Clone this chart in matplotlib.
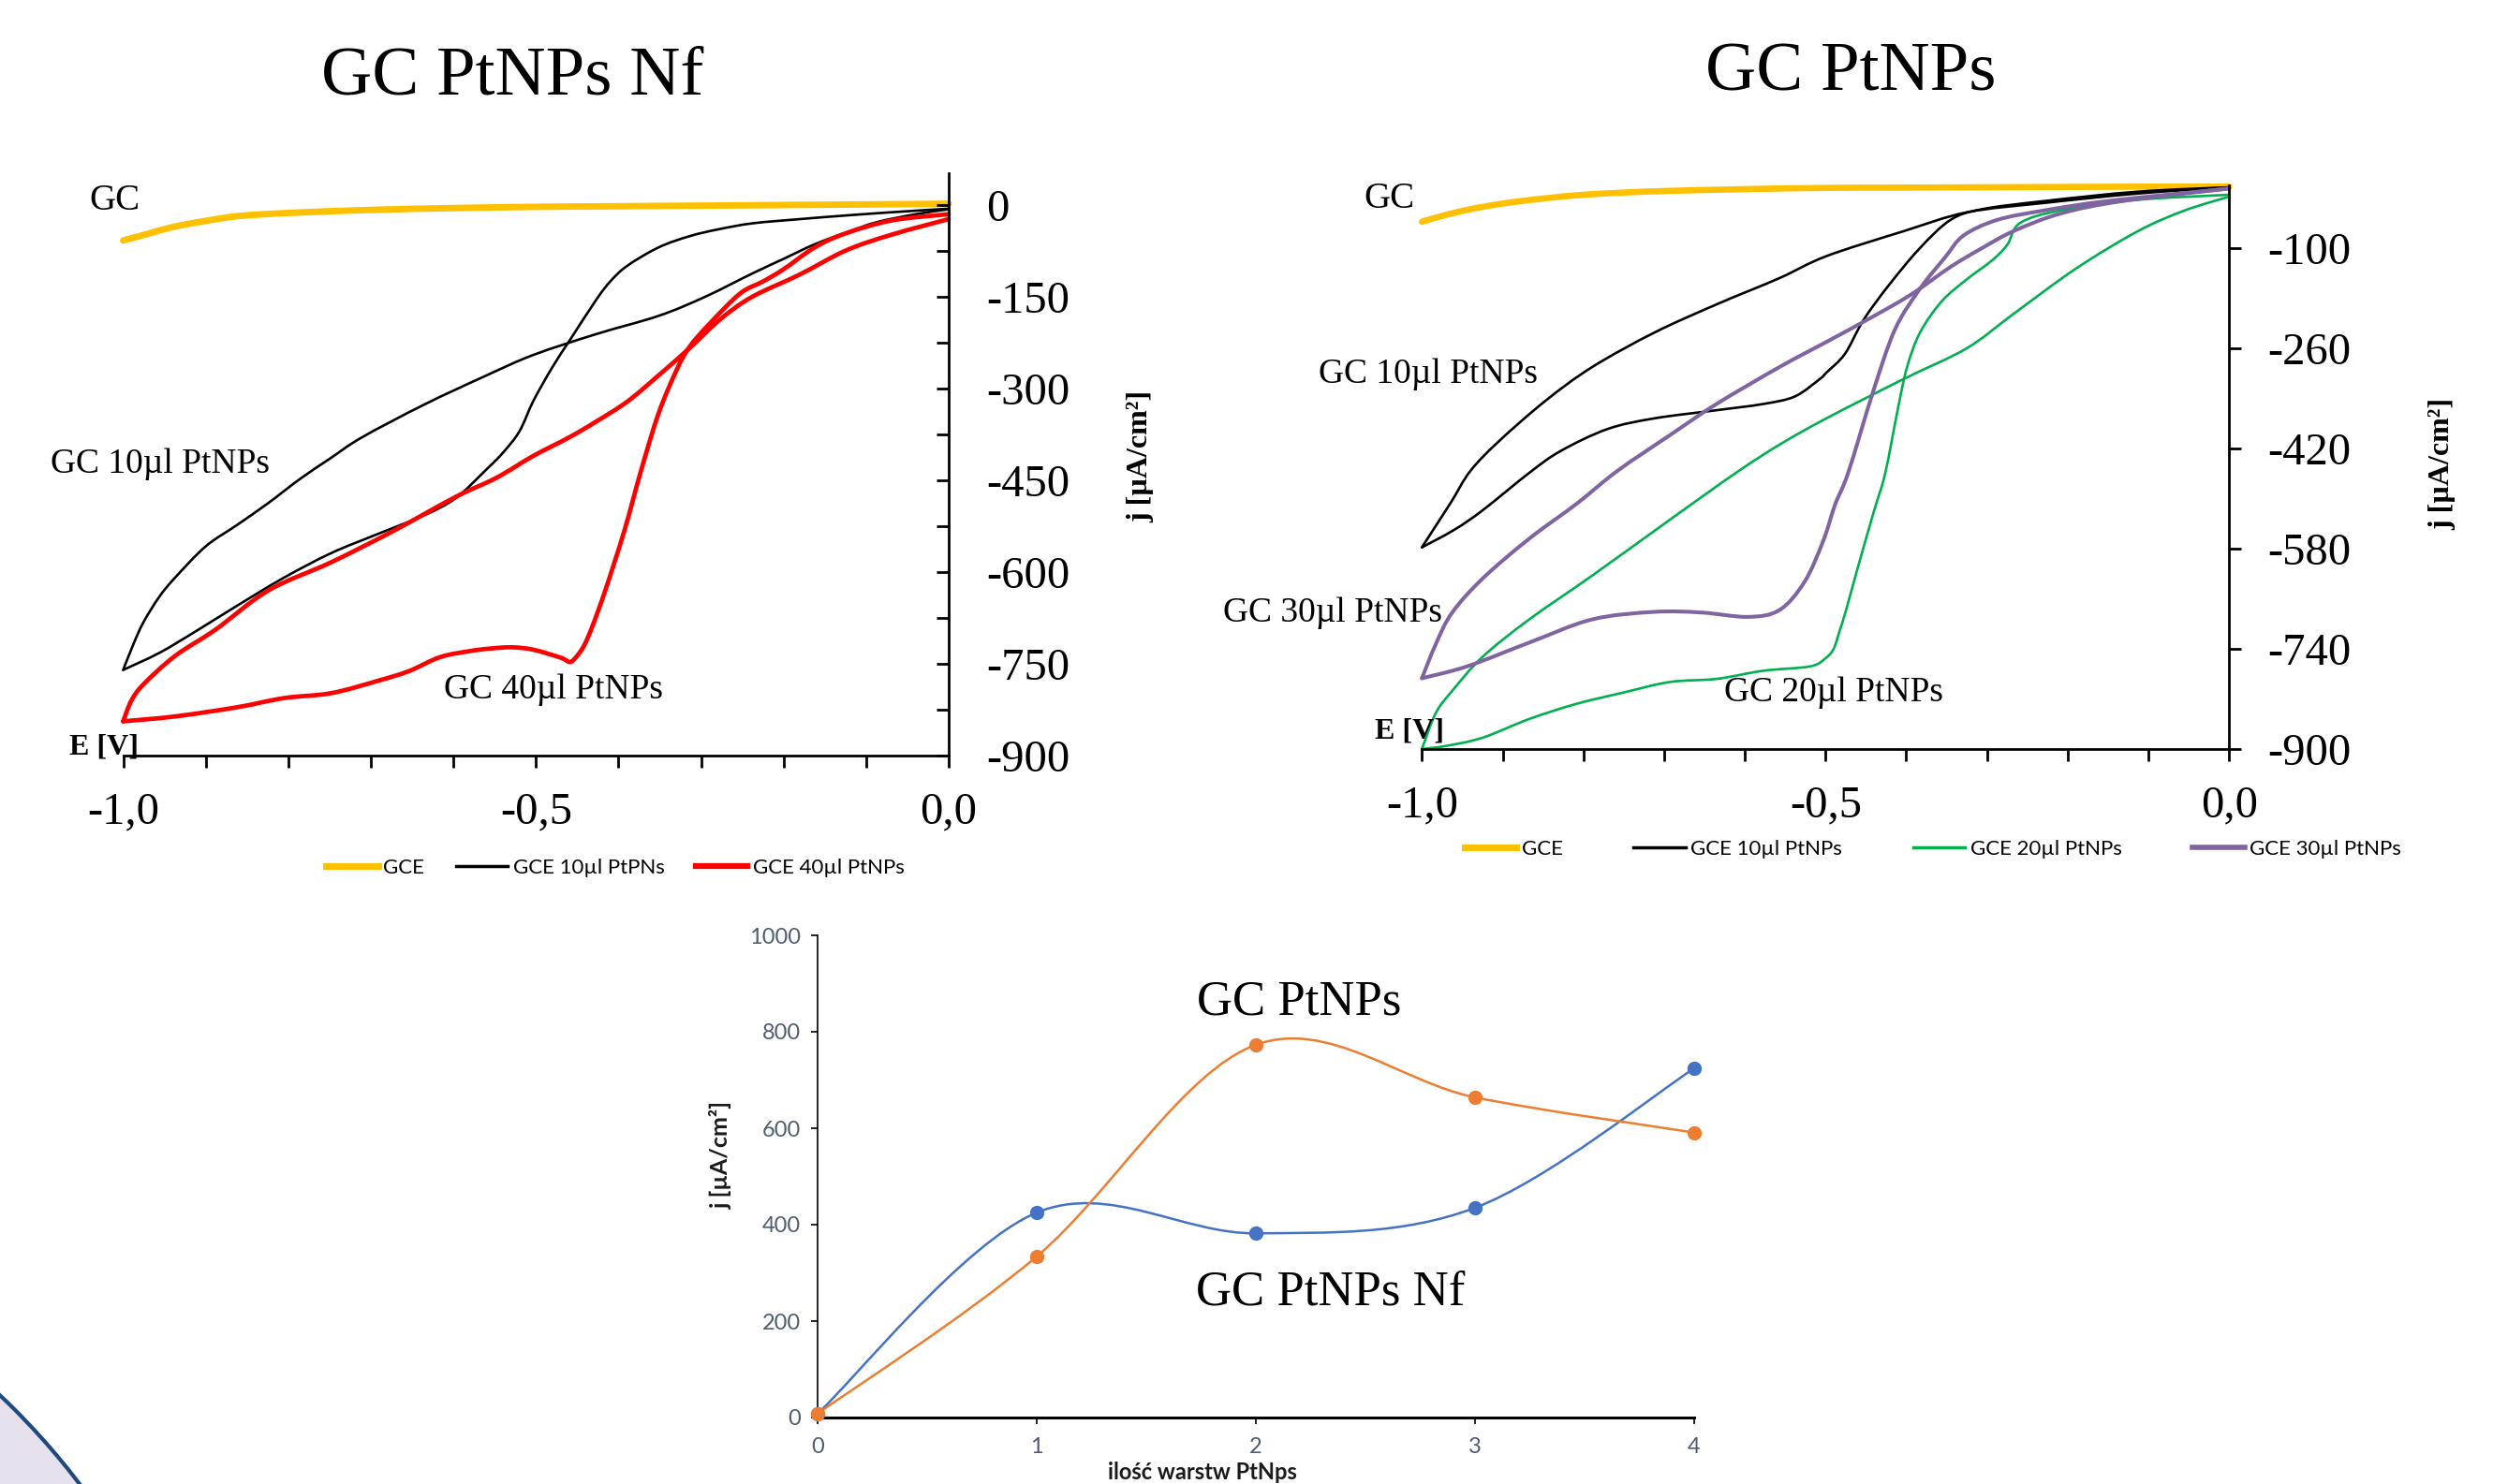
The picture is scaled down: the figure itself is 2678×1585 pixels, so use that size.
import numpy as np
import matplotlib
matplotlib.use('Agg')
import matplotlib.pyplot as plt
from matplotlib.path import Path
from matplotlib.patches import PathPatch, Circle
from matplotlib.lines import Line2D
from matplotlib.transforms import IdentityTransform

# ---------------- data: panel 1 (GC PtNPs Nf) ----------------
p1_gc_E = [-1.0, -0.97, -0.94, -0.9, -0.86, -0.8, -0.7, -0.6, -0.5, -0.4, -0.3, -0.2, -0.1, 0.0]
p1_gc_j = [-58, -47, -36, -26, -18, -13, -8, -5, -3, -2, -1, 0, 1, 2]

p1_10_E = [0.0, -0.06, -0.124, -0.18, -0.238, -0.28, -0.314, -0.351, -0.389, -0.41, -0.427, -0.458,
           -0.48, -0.503, -0.52, -0.54, -0.559, -0.597, -0.635, -0.692, -0.748, -0.805, -0.862,
           -0.911, -0.956, -1.0,
           -0.987, -0.975, -0.956, -0.937, -0.9, -0.862, -0.824, -0.786, -0.75, -0.711, -0.635,
           -0.559, -0.503, -0.427, -0.351, -0.295, -0.238, -0.2, -0.162, -0.12, -0.087, -0.04, 0.0]
p1_10_j = [-6, -11, -17, -23, -30, -40, -51, -69, -99, -125, -155, -219,
           -265, -320, -370, -405, -431, -479, -507, -538, -569, -609, -655,
           -696, -732, -760,
           -716, -681, -640, -609, -558, -523, -487, -448, -415, -380, -326,
           -278, -245, -211, -181, -150, -112, -88, -64, -43, -28, -15, -7]

p1_40_E = [0.0, -0.068, -0.124, -0.162, -0.2, -0.225, -0.253, -0.291, -0.314, -0.329, -0.351, -0.372,
           -0.393, -0.416, -0.432, -0.442, -0.452, -0.459, -0.47, -0.503, -0.529, -0.555, -0.579,
           -0.616, -0.654, -0.692, -0.748, -0.805, -0.862, -0.937, -1.0,
           -0.99, -0.975, -0.937, -0.888, -0.824, -0.748, -0.673, -0.597, -0.548, -0.503, -0.46,
           -0.427, -0.389, -0.351, -0.314, -0.276, -0.238, -0.181, -0.124, -0.068, 0.0]
p1_40_j = [-15, -25, -46, -69, -105, -125, -145, -196, -232, -268, -339, -431,
           -533, -630, -690, -721, -740, -747, -740, -727, -723, -725, -729,
           -739, -762, -778, -798, -806, -821, -836, -844,
           -810, -783, -737, -694, -630, -584, -533, -477, -446, -410, -380,
           -354, -321, -278, -234, -186, -150, -114, -74, -48, -23]

# ---------------- data: panel 2 (GC PtNPs) ----------------
p2_gc_E = [-1.0, -0.97, -0.94, -0.9, -0.85, -0.8, -0.75, -0.7, -0.6, -0.5, -0.4, -0.3, -0.2, -0.1, 0.0]
p2_gc_j = [-58, -47, -38, -29, -21, -15, -11.5, -9, -6, -4, -3.5, -3, -2.5, -2, -2]

p2_10_E = [0.0, -0.113, -0.229, -0.306, -0.345, -0.383, -0.422, -0.453, -0.476, -0.499, -0.507, -0.538,
           -0.577, -0.635, -0.712, -0.77, -0.828, -0.867, -0.925, -0.96, -1.0,
           -0.983, -0.963, -0.94, -0.905, -0.847, -0.789, -0.712, -0.635, -0.557, -0.499, -0.403,
           -0.325, -0.229, -0.113, 0.0]
p2_10_j = [-3, -10, -25, -38, -55, -100, -160, -215, -269, -299, -309, -337,
           -349, -359, -372, -389, -424, -459, -519, -550, -578,
           -544, -504, -456, -409, -344, -290, -235, -190, -148, -113, -73,
           -43, -28, -13, -3]

p2_20_E = [0.0, -0.113, -0.209, -0.259, -0.275, -0.294, -0.325, -0.356, -0.383, -0.399, -0.41, -0.426,
           -0.44, -0.46, -0.475, -0.483, -0.49, -0.5, -0.519, -0.577, -0.635, -0.693, -0.751, -0.809,
           -0.867, -0.925, -0.97, -1.0,
           -0.983, -0.963, -0.925, -0.867, -0.789, -0.693, -0.611, -0.557, -0.499, -0.403, -0.325,
           -0.267, -0.19, -0.113, -0.055, 0.0]
p2_20_j = [-15, -23, -40, -60, -95, -120, -150, -185, -235, -290, -354, -459,
           -520, -610, -680, -713, -740, -755, -768, -775, -788, -793, -810, -828,
           -852, -882, -895, -900,
           -843, -808, -753, -693, -623, -534, -459, -414, -372, -309, -260,
           -205, -133, -73, -40, -18]

p2_30_E = [0.0, -0.151, -0.229, -0.287, -0.329, -0.352, -0.383, -0.414, -0.441, -0.472, -0.488, -0.503,
           -0.526, -0.557, -0.596, -0.654, -0.712, -0.789, -0.867, -0.944, -1.0,
           -0.983, -0.963, -0.925, -0.867, -0.809, -0.758, -0.693, -0.635, -0.557, -0.499, -0.449,
           -0.395, -0.345, -0.306, -0.267, -0.209, -0.132, 0.0]
p2_30_j = [-5, -25, -40, -55, -80, -115, -165, -230, -329, -459, -509, -568,
           -633, -678, -689, -682, -681, -693, -730, -768, -787,
           -733, -683, -628, -564, -509, -456, -399, -349, -290, -250, -215,
           -175, -130, -100, -73, -45, -25, -5]

# ---------------- data: panel 3 (layers) ----------------
layers = [0, 1, 2, 3, 4]
j_nf = [8, 425, 382, 435, 724]        # blue
j_ptnps = [8, 334, 773, 664, 591]     # orange

x_ticklabels = ['-1,0', '-0,5', '0,0']

# ---------------- style ----------------
W, H = 2678, 1585
SERIF = 'Liberation Serif'
SANS = ['Lato', 'DejaVu Sans']
plt.rcParams['font.family'] = SERIF

C_YEL = '#FFC000'
C_RED = '#FF0000'
C_GRN = '#00B050'
C_PUR = '#8064A2'
C_BLUE = '#4472C4'
C_ORG = '#ED7D31'

fig = plt.figure(figsize=(W / 100, H / 100), dpi=100)


def fx(px):
    return px / W


def fy(py):
    return 1 - py / H


DY = 4  # vertical nudge for serif labels (px)

# decorative corner circle
deco = Circle((-540, H - 2060), 785, transform=IdentityTransform(),
              facecolor='#E6E1EE', edgecolor='#1F497D', linewidth=3.0, zorder=-5)
fig.add_artist(deco)


def smooth_path(x, y):
    pts = np.column_stack([np.asarray(x, float), np.asarray(y, float)])
    n = len(pts)
    verts = [pts[0]]
    codes = [Path.MOVETO]
    for i in range(n - 1):
        p0 = pts[max(i - 1, 0)]
        p1 = pts[i]
        p2 = pts[i + 1]
        p3 = pts[min(i + 2, n - 1)]
        verts += [p1 + (p2 - p0) / 6, p2 - (p3 - p1) / 6, p2]
        codes += [Path.CURVE4] * 3
    return Path(verts, codes)


def draw_smooth(ax, x, y, color, lw, cap='round'):
    ax.add_patch(PathPatch(smooth_path(x, y), fill=False, edgecolor=color, lw=lw,
                           clip_on=False, capstyle=cap, joinstyle='round'))


def draw_cv(ax, E, j, color, lw):
    k = int(np.argmin(E))
    draw_smooth(ax, E[:k + 1], j[:k + 1], color, lw)
    draw_smooth(ax, E[k:], j[k:], color, lw)


def cv_axes(rect, ymax, yticks, yminor, ydir, ypad):
    ax = fig.add_axes(rect)
    ax.set_facecolor('none')
    ax.set_xlim(-1, 0)
    ax.set_ylim(-900, ymax)
    for s in ['left', 'top']:
        ax.spines[s].set_visible(False)
    for s in ['right', 'bottom']:
        ax.spines[s].set_linewidth(2.0)
    ax.yaxis.tick_right()
    ax.set_yticks(yticks)
    ax.set_yticklabels([str(v) for v in yticks])
    if yminor is not None:
        ax.set_yticks(yminor, minor=True)
    ax.tick_params(axis='y', which='both', direction=ydir, length=9.5, width=2,
                   pad=ypad, labelsize=35)
    ax.set_xticks([-1, -0.5, 0])
    ax.set_xticklabels(x_ticklabels)
    ax.set_xticks(np.arange(-0.9, -0.05, 0.1), minor=True)
    ax.tick_params(axis='x', which='both', direction='out', length=9.5, width=2,
                   pad=18.5, labelsize=35)
    return ax


# ---------------- panel 1 ----------------
ax1 = cv_axes([fx(131.5), fy(807), 881.5 / W, 622 / H], 52,
              list(range(-900, 1, 150)), list(range(-825, 0, 150)), 'in', 29)
draw_smooth(ax1, p1_gc_E, p1_gc_j, C_YEL, 5)
draw_cv(ax1, p1_10_E, p1_10_j, 'black', 1.9)
draw_cv(ax1, p1_40_E, p1_40_j, C_RED, 3.4)

fig.text(fx(547), fy(77 + DY + 2), 'GC PtNPs Nf', ha='center', va='center', fontsize=54)
fig.text(fx(122), fy(210 + DY), 'GC', ha='center', va='center', fontsize=28)
fig.text(fx(171), fy(492 + DY), 'GC 10µl PtNPs', ha='center', va='center', fontsize=27)
fig.text(fx(591), fy(733 + DY), 'GC 40µl PtNPs', ha='center', va='center', fontsize=27)
fig.text(fx(111), fy(794 + DY), 'E [V]', ha='center', va='center', fontsize=23, weight='bold')
fig.text(fx(1218), fy(487), 'j [µA/cm²]', ha='center', va='center', fontsize=23,
         weight='bold', rotation=90)

h1 = [Line2D([], [], color=C_YEL, lw=5), Line2D([], [], color='black', lw=2.5),
      Line2D([], [], color=C_RED, lw=4.5)]
fig.legend(h1, ['GCE', 'GCE 10µl PtPNs', 'GCE 40µl PtNPs'], loc='center',
           bbox_to_anchor=(fx(657), fy(927)), ncol=3, frameon=False,
           prop={'family': SANS, 'size': 16}, handlelength=2.5, handletextpad=0.25,
           columnspacing=1.5)

# ---------------- panel 2 ----------------
ax2 = cv_axes([fx(1518.3), fy(800), 862 / W, 602 / H], 0,
              list(range(-900, 0, 160)), None, 'out', 20)
draw_smooth(ax2, p2_gc_E, p2_gc_j, C_YEL, 4.8)
draw_cv(ax2, p2_10_E, p2_10_j, 'black', 1.9)
draw_cv(ax2, p2_20_E, p2_20_j, C_GRN, 1.9)
draw_cv(ax2, p2_30_E, p2_30_j, C_PUR, 2.9)

fig.text(fx(1976), fy(72 + DY + 3), 'GC PtNPs', ha='center', va='center', fontsize=54)
fig.text(fx(1483), fy(208 + DY), 'GC', ha='center', va='center', fontsize=28)
fig.text(fx(1525), fy(396 + DY), 'GC 10µl PtNPs', ha='center', va='center', fontsize=27)
fig.text(fx(1423), fy(651 + DY), 'GC 30µl PtNPs', ha='center', va='center', fontsize=27)
fig.text(fx(1958), fy(736 + DY), 'GC 20µl PtNPs', ha='center', va='center', fontsize=27)
fig.text(fx(1505), fy(777 + DY), 'E [V]', ha='center', va='center', fontsize=23, weight='bold')
fig.text(fx(2608), fy(495), 'j [µA/cm²]', ha='center', va='center', fontsize=23,
         weight='bold', rotation=90)

h2 = [Line2D([], [], color=C_YEL, lw=5), Line2D([], [], color='black', lw=2.5),
      Line2D([], [], color=C_GRN, lw=2.5), Line2D([], [], color=C_PUR, lw=4)]
fig.legend(h2, ['GCE', 'GCE 10µl PtNPs', 'GCE 20µl PtNPs', 'GCE 30µl PtNPs'], loc='center',
           bbox_to_anchor=(fx(2064), fy(907)), ncol=4, frameon=False,
           prop={'family': SANS, 'size': 16}, handlelength=2.5, handletextpad=0.25,
           columnspacing=3.4)

# ---------------- panel 3 ----------------
ax3 = fig.add_axes([fx(873), fy(1514), (1809 - 873) / W, (1514 - 999) / H])
ax3.set_facecolor('none')
ax3.set_xlim(0, 4)
ax3.set_ylim(0, 1000)
for s in ['top', 'right']:
    ax3.spines[s].set_visible(False)
ax3.spines['left'].set_linewidth(1.2)
ax3.spines['bottom'].set_linewidth(2.2)
ax3.set_xticks(layers)
ax3.set_yticks(range(0, 1001, 200))
ax3.tick_params(axis='y', direction='out', length=5, width=1.2, pad=8,
                labelsize=17, labelcolor='#4F5B6E')
ax3.tick_params(axis='x', direction='out', length=5, width=1.2, pad=10,
                labelsize=17, labelcolor='#4F5B6E')
for lbl in ax3.get_xticklabels() + ax3.get_yticklabels():
    lbl.set_family(SANS)

for yy, col in [(j_nf, C_BLUE), (j_ptnps, C_ORG)]:
    draw_smooth(ax3, layers, yy, col, 1.8, cap='butt')
    ax3.plot(layers, yy, 'o', color=col, markersize=10, clip_on=False, zorder=5)

fig.text(fx(1387), fy(1066 + DY), 'GC PtNPs', ha='center', va='center', fontsize=38)
fig.text(fx(1421), fy(1377 + DY), 'GC PtNPs Nf', ha='center', va='center', fontsize=38)
fig.text(fx(770), fy(1233), 'j [µA/cm²]', ha='center', va='center', rotation=90,
         family=SANS, weight='bold', fontsize=18, color='#1a1a1a')
fig.text(fx(1284), fy(1584), 'ilość warstw PtNps', ha='center', va='bottom',
         family=SANS, weight='bold', fontsize=17, color='#1a1a1a')

fig.savefig('out.png', dpi=100)
